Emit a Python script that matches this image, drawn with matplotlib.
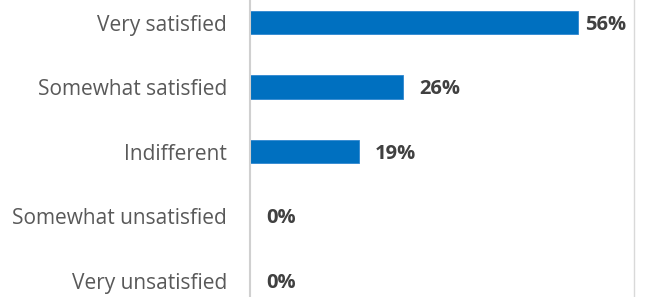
import matplotlib
matplotlib.use("Agg")
import matplotlib.pyplot as plt

categories = ["Very satisfied", "Somewhat satisfied", "Indifferent",
              "Somewhat unsatisfied", "Very unsatisfied"]
values = [55.6, 25.9, 18.5, 0.0, 0.0]
labels = ["56%", "26%", "19%", "0%", "0%"]

plt.rcParams['font.family'] = ['Open Sans', 'DejaVu Sans']

W, H = 647, 297
fig = plt.figure(figsize=(W / 100, H / 100), dpi=100)
# plot area runs past the top and bottom edge of the picture
ax = fig.add_axes([250 / W, 1 - 312.75 / H, 384 / W, 322.5 / H])

pos = list(range(len(categories)))
ax.barh(pos, values, height=0.357, color="#0070C0", edgecolor="#2E86D0", linewidth=0.6)
ax.set_ylim(4.5, -0.5)
xmax = 384 / 5.9
ax.set_xlim(0, xmax)

ax.set_yticks(pos)
ax.set_yticklabels(categories, fontsize=15, color="#595959")
ax.tick_params(axis="y", length=0, pad=16.5)
ax.set_xticks([])

for s in ["top", "bottom"]:
    ax.spines[s].set_visible(False)
ax.spines["left"].set_color("#D0D0D0")
ax.spines["left"].set_linewidth(1.5)
ax.spines["right"].set_color("#D9D9D9")
ax.spines["right"].set_linewidth(1.0)

for p, v, t in zip(pos, values, labels):
    # label is pushed back when it would run past the plot area
    off = min(16, (xmax - v) * 5.9 - 49)
    ax.annotate(t, (v, p), xytext=(off * 0.72, -1.5), textcoords="offset points",
                va="center", ha="left", fontsize=14.5, fontweight="bold",
                color="#404040")

fig.savefig("out.png", dpi=100)
